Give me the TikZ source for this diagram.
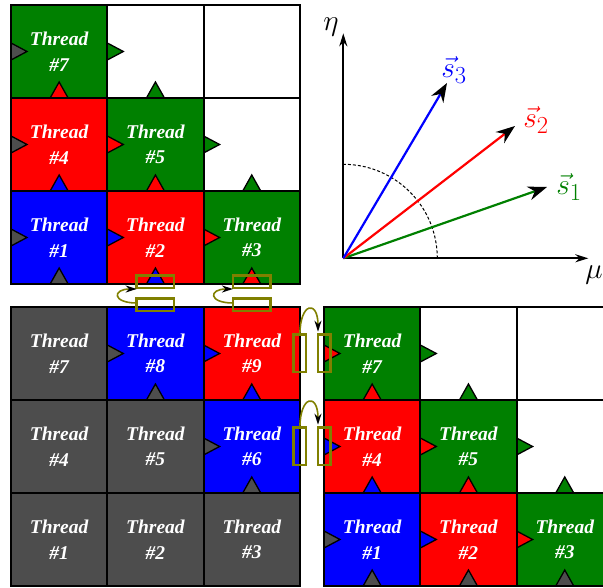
\documentclass[tikz,border=0pt]{standalone}
\usepackage[no-math]{fontspec}
\setmainfont{Liberation Serif}
\usetikzlibrary{arrows.meta,positioning,calc}
\definecolor{tgreen}{RGB}{0,128,0}
\definecolor{dgray}{RGB}{77,77,77}
\definecolor{halo}{RGB}{128,128,0}
\tikzset{
cell/.style={draw,line width=2pt,minimum width=96.3pt,minimum height=93pt,inner sep=0pt,outer sep=0pt},
cellline/.style={line width=2pt},
threadtxt/.style={text=white,font=\fontsize{19.5}{25.5}\selectfont\bfseries\itshape,align=center},
tri/.style={line width=1.3pt},
halobox/.style={draw=halo,line width=2.4pt,minimum width=37.6pt,minimum height=12.6pt,inner sep=0pt,outer sep=0pt},
halovert/.style={halobox,minimum width=12.6pt,minimum height=37.6pt},
swap/.style={draw=halo,line width=1.6pt,-{Stealth[black,length=11pt,width=7pt]}},
axis/.style={line width=2pt,-{Stealth[length=13pt,width=8pt]}},
vec/.style={line width=2.2pt,-{Stealth[black,length=19pt,width=14pt]}},
mathtxt/.style={font=\fontsize{24.88}{30}\selectfont,scale=1.18,transform shape}
}
% halo triangles on the west and south edge of a cell
\newcommand\ltri[2]{\filldraw[tri,fill=#2]([yshift=8.5pt]#1.west)--([xshift=16pt]#1.west)--([yshift=-8.5pt]#1.west);}
\newcommand\btri[2]{\filldraw[tri,fill=#2]([xshift=-9pt]#1.south)--([yshift=16pt]#1.south)--([xshift=9pt]#1.south);}
\begin{document}
\begin{tikzpicture}[x=1pt,y=1pt]
\useasboundingbox (0,0) rectangle (603,588);
% three 3x3 blocks of threads
\foreach \k/\col in {1/blue,2/red,3/tgreen,4/red,5/tgreen,6/white,7/tgreen,8/white,9/white}
  \node[cell,fill=\col](t\k) at ({11+(mod(\k-1,3)+.5)*96.3},{304+(int((\k-1)/3)+.5)*93}){};
\foreach \k/\col in {1/dgray,2/dgray,3/dgray,4/dgray,5/dgray,6/blue,7/dgray,8/blue,9/red}
  \node[cell,fill=\col](l\k) at ({11+(mod(\k-1,3)+.5)*96.3},{2+(int((\k-1)/3)+.5)*93}){};
\foreach \k/\col in {1/blue,2/red,3/tgreen,4/red,5/tgreen,6/white,7/tgreen,8/white,9/white}
  \node[cell,fill=\col](r\k) at ({324+(mod(\k-1,3)+.5)*96.3},{2+(int((\k-1)/3)+.5)*93}){};
% dependencies
\foreach \n/\c in {t1/dgray,t2/blue,t3/red,t4/dgray,t5/red,t6/tgreen,t7/dgray,t8/tgreen,
  l6/dgray,l8/dgray,l9/blue,r1/dgray,r2/blue,r3/red,r4/blue,r5/red,r6/tgreen,r7/red,r8/tgreen}
  \ltri{\n}{\c};
\foreach \n/\c in {t1/dgray,t2/blue,t3/red,t4/blue,t5/red,t6/tgreen,t7/red,t8/tgreen,
  l6/dgray,l8/dgray,l9/blue,r1/dgray,r2/dgray,r3/dgray,r4/blue,r5/red,r6/tgreen,r7/red,r8/tgreen}
  \btri{\n}{\c};
\foreach \g in {t,l,r}\foreach \k in {1,...,9}
  \draw[cellline](\g\k.south west) rectangle (\g\k.north east);
\foreach \k in {1,2,3,4,5,7}\node[threadtxt](t\k txt) at (t\k){Thread\\\#\k};
\foreach \k in {1,...,9}\node[threadtxt](l\k txt) at (l\k){Thread\\\#\k};
\foreach \k in {1,2,3,4,5,7}\node[threadtxt](r\k txt) at (r\k){Thread\\\#\k};
% halo exchange
\node[halobox](h2up) at ([yshift=2pt]t2.south){};\node[halobox](h2dn) at ([yshift=2pt]l8.north){};
\node[halobox](h3up) at ([yshift=2pt]t3.south){};\node[halobox](h3dn) at ([yshift=2pt]l9.north){};
\node[halovert](h9l) at (l9.east){};\node[halovert](h9r) at (r7.west){};
\node[halovert](h6l) at (l6.east){};\node[halovert](h6r) at (r4.west){};
\draw[swap]([yshift=2pt]h2dn.west) to[out=180,in=180,looseness=4.5] ([yshift=-7pt]h2up.west);
\draw[swap]([yshift=2pt]h3dn.west) to[out=180,in=180,looseness=4.5] ([yshift=-7pt]h3up.west);
\draw[swap](h9l.north) to[out=90,in=90,looseness=4.5] ([xshift=-6pt,yshift=3pt]h9r.north);
\draw[swap](h6l.north) to[out=90,in=90,looseness=4.5] ([xshift=-6pt,yshift=3pt]h6r.north);
% sweep directions
\coordinate (O) at (343.3,329.7);
\coordinate[above=225pt of O] (etaend);\coordinate[right=245pt of O] (muend);
\draw[dashed,line width=1pt,dash pattern=on 3pt off 2pt]([xshift=94pt]O) arc[start angle=0,end angle=90,radius=94pt];
\draw[axis](O)--(etaend);\draw[axis](O)--(muend);
\node[mathtxt](eta) at (331,561){$\eta$};
\node[mathtxt](mu) at (594,313){$\mu$};
\coordinate (s1) at ($(O)+(203.7,71.3)$);\coordinate (s2) at ($(O)+(171.7,132.3)$);\coordinate (s3) at ($(O)+(103.7,175.3)$);
\draw[vec,tgreen](O)--(s1);\draw[vec,red](O)--(s2);\draw[vec,blue](O)--(s3);
\node[mathtxt,tgreen](s1txt) at (569,401){$\vec{s}_1$};
\node[mathtxt,red](s2txt) at (536,468){$\vec{s}_2$};
\node[mathtxt,blue](s3txt) at (454,518){$\vec{s}_3$};
\end{tikzpicture}
\end{document}
